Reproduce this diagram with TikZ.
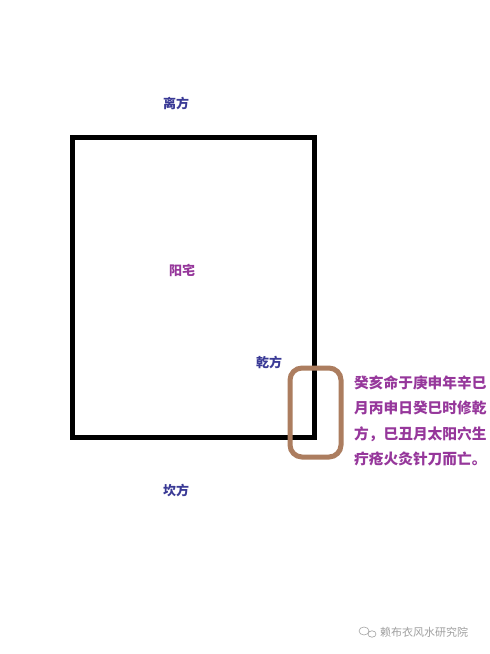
\documentclass[tikz,border=0pt]{standalone}
\usepackage{fontspec}
\newfontfamily\cjk{Noto Sans CJK SC}
\definecolor{dirblue}{RGB}{58,58,150}
\definecolor{purp}{RGB}{150,55,155}
\definecolor{brownc}{RGB}{172,125,95}
\definecolor{wmgrey}{RGB}{160,160,160}
\tikzset{
  lbl/.style={font=\cjk\bfseries\fontsize{13}{15}\selectfont, inner sep=0pt},
  dirlbl/.style={lbl, text=dirblue},
  note/.style={font=\cjk\bfseries\fontsize{14.7}{25.5}\selectfont, text=purp, align=left, inner sep=0pt, anchor=north west},
  house/.style={draw=black, line width=5pt},
  hilite/.style={draw=brownc, line width=5pt, rounded corners=12pt}
}
\begin{document}
\begin{tikzpicture}[x=1pt,y=-1pt]
\useasboundingbox (0,0) rectangle (490,654);
\fill[white] (0,0) rectangle (490,654);
\draw[house] (72,137.5) rectangle (314.5,437);
\node[dirlbl] (li) at (176,103) {离方};
\node[lbl, text=purp] (yz) at (182,270) {阳宅};
\node[dirlbl] (qian) at (269,362) {乾方};
\node[dirlbl] (kan) at (176,490) {坎方};
\draw[hilite] (290,368) rectangle (341,457);
\node[note] (txt) at (354,375) {癸亥命于庚申年辛巳\\月丙申日癸巳时修乾\\方，巳丑月太阳穴生\\疔疮火灸针刀而亡。};
\draw[wmgrey, line width=0.6pt] (364,631) ellipse (5pt and 4pt);
\draw[wmgrey, line width=0.6pt] (372,634) ellipse (4pt and 3.2pt);
\node[font=\cjk\fontsize{11}{13}\selectfont, text=wmgrey, inner sep=0pt, anchor=west] (wm) at (380,632) {赖布衣风水研究院};
\end{tikzpicture}
\end{document}
